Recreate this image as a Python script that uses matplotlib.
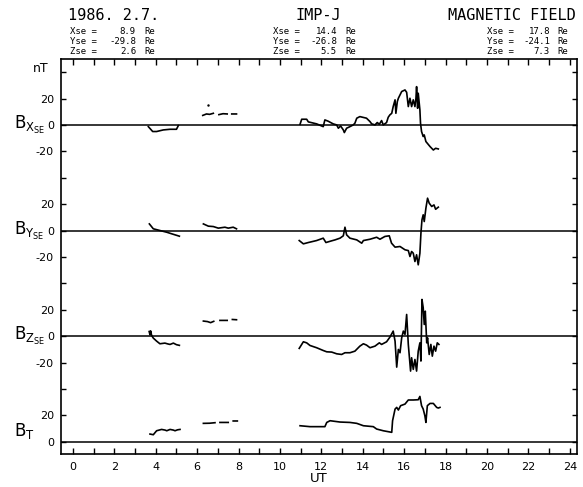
import numpy as np
import matplotlib.pyplot as plt
from matplotlib.transforms import blended_transform_factory

nan = np.nan

# magnetic field components (nT) vs UT hours, nan = data gap
bx_hours = [3.64, 3.85, 4.04, 4.36, 4.69, 5.0, 5.09, nan,
            6.27, 6.45, 6.6, 6.78, nan, 7.05, 7.25, 7.45, nan, 7.67, 7.9, nan,
            10.97, 11.05, 11.29, 11.37, 11.53, 11.77, 12.09, 12.17, 12.33, 12.57,
            12.74, 12.82, 12.93, 13.06, 13.11, 13.22, 13.38, 13.54, 13.62, 13.71,
            13.86, 14.18, 14.35, 14.43, 14.59, 14.7, 14.8, 14.91, 14.99, 15.15,
            15.23, 15.31, 15.4, 15.47, 15.56, 15.6, 15.67, 15.72, 15.88, 16.04,
            16.12, 16.2, 16.28, 16.36, 16.44, 16.52, 16.57, 16.6, 16.65, 16.68,
            16.76, 16.79, 16.84, 16.92, 16.97, 17.05, 17.25, 17.41, 17.52, 17.65]
bx_nt = [-1.3, -5.0, -5.0, -3.8, -3.3, -3.3, -0.5, nan,
         7.2, 8.3, 8.0, 8.8, nan, 7.8, 8.5, 8.3, nan, 8.3, 8.3, nan,
         0.5, 4.3, 4.3, 2.3, 1.7, 0.8, -1.3, 3.8, 2.8, 0.8,
         0.0, -2.5, -0.8, -3.8, -5.8, -2.5, -1.3, 0.0, 1.3, 5.1,
         6.3, 5.1, 2.5, 0.8, 0.0, 1.8, 0.5, 3.3, 0.0, 1.8,
         5.8, 7.6, 8.8, 13.9, 19.0, 8.8, 17.7, 20.2, 25.3, 26.5,
         24.7, 13.9, 20.2, 13.9, 19.0, 13.9, 20.2, 29.0, 12.6, 24.0,
         11.4, 1.3, -5.0, -8.8, -7.6, -12.6, -16.4, -19.0, -17.7, -18.2]
bx_dot = (6.54, 15.0)

by_hours = [3.69, 3.88, 4.2, 4.53, 4.77, 5.14, nan,
            6.3, 6.54, 6.78, 7.02, 7.34, 7.5, 7.74, 7.9, nan,
            10.93, 11.13, 11.37, 11.77, 12.09, 12.22, 12.5, 12.66, 12.9, 13.06,
            13.14, 13.22, 13.38, 13.71, 13.95, 14.03, 14.35, 14.67, 14.83, 15.07,
            15.28, 15.39, 15.56, 15.8, 16.04, 16.2, 16.28, 16.36, 16.44, 16.52,
            16.6, 16.68, 16.76, 16.81, 16.86, 16.92, 16.97, 17.05, 17.13, 17.21,
            17.33, 17.44, 17.52, 17.65]
by_nt = [5.0, 1.3, 0.0, -1.3, -2.5, -4.3, nan,
         5.0, 3.3, 3.0, 1.8, 2.5, 1.8, 2.5, 1.3, nan,
         -7.6, -10.1, -9.1, -7.6, -5.8, -9.1, -7.8, -7.1, -5.8, -4.0,
         2.5, -3.3, -5.8, -7.1, -9.6, -7.6, -6.6, -5.1, -6.6, -4.5,
         -4.0, -9.6, -12.6, -12.1, -14.6, -15.2, -19.7, -15.9, -17.2, -23.5,
         -18.4, -26.0, -17.2, -2.0, 8.1, 11.9, 6.8, 16.9, 24.5, 20.7,
         18.2, 19.4, 16.1, 17.7]

bz_hours = [3.68, 3.72, 3.75, 3.8, 3.88, 4.04, 4.2, 4.44, 4.6, 4.69, 4.85, 5.0, 5.14, nan,
            6.3, 6.5, 6.65, 6.8, nan, 7.1, 7.45, nan, 7.7, 7.9, nan,
            10.93, 11.13, 11.29, 11.45, 11.77, 12.09, 12.26, 12.5, 12.74, 12.98,
            13.14, 13.38, 13.62, 13.86, 14.03, 14.18, 14.35, 14.59, 14.8, 14.91,
            15.15, 15.31, 15.47, 15.56, 15.64, 15.72, 15.8, 15.88, 15.96, 16.04,
            16.12, 16.2, 16.31, 16.36, 16.44, 16.52, 16.6, 16.68, 16.76, 16.81,
            16.86, 16.92, 16.97, 17.02, 17.09, 17.13, 17.21, 17.29, 17.36, 17.44,
            17.52, 17.6, 17.68]
bz_nt = [3.5, 1.0, 4.0, 0.5, -1.5, -3.8, -5.8, -5.3, -6.0, -6.3, -5.3, -6.5, -7.0, nan,
         11.4, 11.0, 10.2, 11.2, nan, 11.9, 11.9, nan, 12.6, 12.4, nan,
         -9.3, -4.3, -5.1, -7.1, -8.8, -10.9, -11.9, -12.1, -13.4, -13.9,
         -12.6, -12.6, -11.4, -7.6, -5.8, -6.8, -8.8, -7.6, -5.1, -6.3,
         -4.3, -0.8, 3.8, -3.8, -23.5, -10.1, -12.6, -1.3, 3.8, 1.3,
         16.4, -6.3, -26.5, -16.4, -25.2, -17.7, -26.5, -11.4, -5.1, -18.9,
         27.8, 21.5, 8.8, 18.9, -5.1, -1.3, -13.9, -6.3, -15.2, -7.6,
         -11.4, -5.1, -6.3]

bt_hours = [3.72, 3.88, 4.04, 4.28, 4.45, 4.53, 4.69, 4.85, 4.93, 5.05, 5.17, nan,
            6.3, 6.6, 6.86, nan, 7.1, 7.5, nan, 7.74, 7.94, nan,
            10.97, 11.45, 12.17, 12.26, 12.42, 12.9, 13.38, 13.71, 14.03, 14.51,
            14.67, 14.99, 15.4, 15.44, 15.56, 15.64, 15.72, 15.83, 16.04, 16.2,
            16.44, 16.68, 16.76, 16.84, 16.92, 17.0, 17.05, 17.12, 17.25, 17.41,
            17.57, 17.65, 17.73]
bt_nt = [5.8, 5.3, 8.3, 9.3, 8.8, 8.3, 9.3, 8.8, 8.3, 9.0, 9.3, nan,
         13.9, 14.0, 14.4, nan, 14.6, 14.6, nan, 15.7, 15.7, nan,
         12.1, 11.4, 11.4, 14.6, 15.9, 14.9, 14.6, 13.9, 12.1, 11.4,
         9.6, 8.3, 7.1, 15.9, 24.7, 26.0, 24.0, 27.3, 28.5, 31.6,
         31.6, 31.8, 34.3, 27.3, 24.7, 19.7, 14.6, 27.3, 29.0, 29.0,
         26.0, 25.5, 26.0]

# panel baselines on the common axis
offsets = {'bx': 240, 'by': 160, 'bz': 80, 'bt': 0}

fig = plt.figure(figsize=(5.83, 4.87), dpi=100)
ax = fig.add_axes([0.1046, 0.0678, 0.8851, 0.8104])

for y0 in offsets.values():
    ax.axhline(y0, color='k', lw=1.1)

ax.plot(bx_hours, np.array(bx_nt) + offsets['bx'], color='k', lw=1.2)
ax.plot(bx_dot[0], bx_dot[1] + offsets['bx'], 'k.', ms=1.5)
ax.plot(by_hours, np.array(by_nt) + offsets['by'], color='k', lw=1.2)
ax.plot(bz_hours, np.array(bz_nt) + offsets['bz'], color='k', lw=1.2)
ax.plot(bt_hours, np.array(bt_nt) + offsets['bt'], color='k', lw=1.2)

ax.set_xlim(-0.58, 24.35)
ax.set_ylim(-9.3, 289.7)

ax.set_xticks(range(0, 25))
ax.set_xticklabels([str(h) if h % 2 == 0 else '' for h in range(0, 25)])
yt = list(range(0, 281, 20))
ylab = {0: '0', 20: '20', 60: '-20', 80: '0', 100: '20', 140: '-20',
        160: '0', 180: '20', 220: '-20', 240: '0', 260: '20'}
ax.set_yticks(yt)
ax.set_yticklabels([ylab.get(v, '') for v in yt])
ax.tick_params(axis='x', direction='in', length=4, width=1, top=True, pad=6, labelsize=8)
ax.tick_params(axis='y', direction='in', length=3.5, width=1, right=True, pad=5, labelsize=8)
for s in ax.spines.values():
    s.set_linewidth(1.2)

ax.set_xlabel('UT', fontsize=9.5, labelpad=0)

# component labels at the left of each panel
tr = blended_transform_factory(fig.transFigure, ax.transData)
comp_labels = [(r'$\mathrm{B}_{\mathrm{X}_{\mathrm{SE}}}$', offsets['bx']),
               (r'$\mathrm{B}_{\mathrm{Y}_{\mathrm{SE}}}$', offsets['by']),
               (r'$\mathrm{B}_{\mathrm{Z}_{\mathrm{SE}}}$', offsets['bz']),
               (r'$\mathrm{B}_{\mathrm{T}}$', 8)]
for txt, y in comp_labels:
    ax.text(14 / 583, y, txt, transform=tr, fontsize=12, ha='left', va='center')
ax.text(41 / 583, 283, 'nT', transform=tr, fontsize=9, ha='center', va='center')

# header
mono = 'DejaVu Sans Mono'
fig.text(68 / 583, 1 - 16 / 487, '1986. 2.7.', family=mono, fontsize=11, va='center')
fig.text(318 / 583, 1 - 16 / 487, 'IMP-J', family=mono, fontsize=11, va='center', ha='center')
fig.text(576 / 583, 1 - 16 / 487, 'MAGNETIC FIELD', family=mono, fontsize=11, va='center', ha='right')

positions = [
    (70, 136, 144, ['8.9', '-29.8', '2.6']),
    (273, 337, 345, ['14.4', '-26.8', '5.5']),
    (487, 550, 557, ['17.8', '-24.1', '7.3']),
]
rows = [('X', 32), ('Y', 41.5), ('Z', 51)]
for x0, x1, x2, vals in positions:
    for (axis_name, yy), v in zip(rows, vals):
        fig.text(x0 / 583, 1 - yy / 487, axis_name + 'se =', family=mono, fontsize=6.5, va='center')
        fig.text(x1 / 583, 1 - yy / 487, v, family=mono, fontsize=6.5, va='center', ha='right')
        fig.text(x2 / 583, 1 - yy / 487, 'Re', family=mono, fontsize=6.5, va='center')

fig.savefig('out.png', dpi=100)
